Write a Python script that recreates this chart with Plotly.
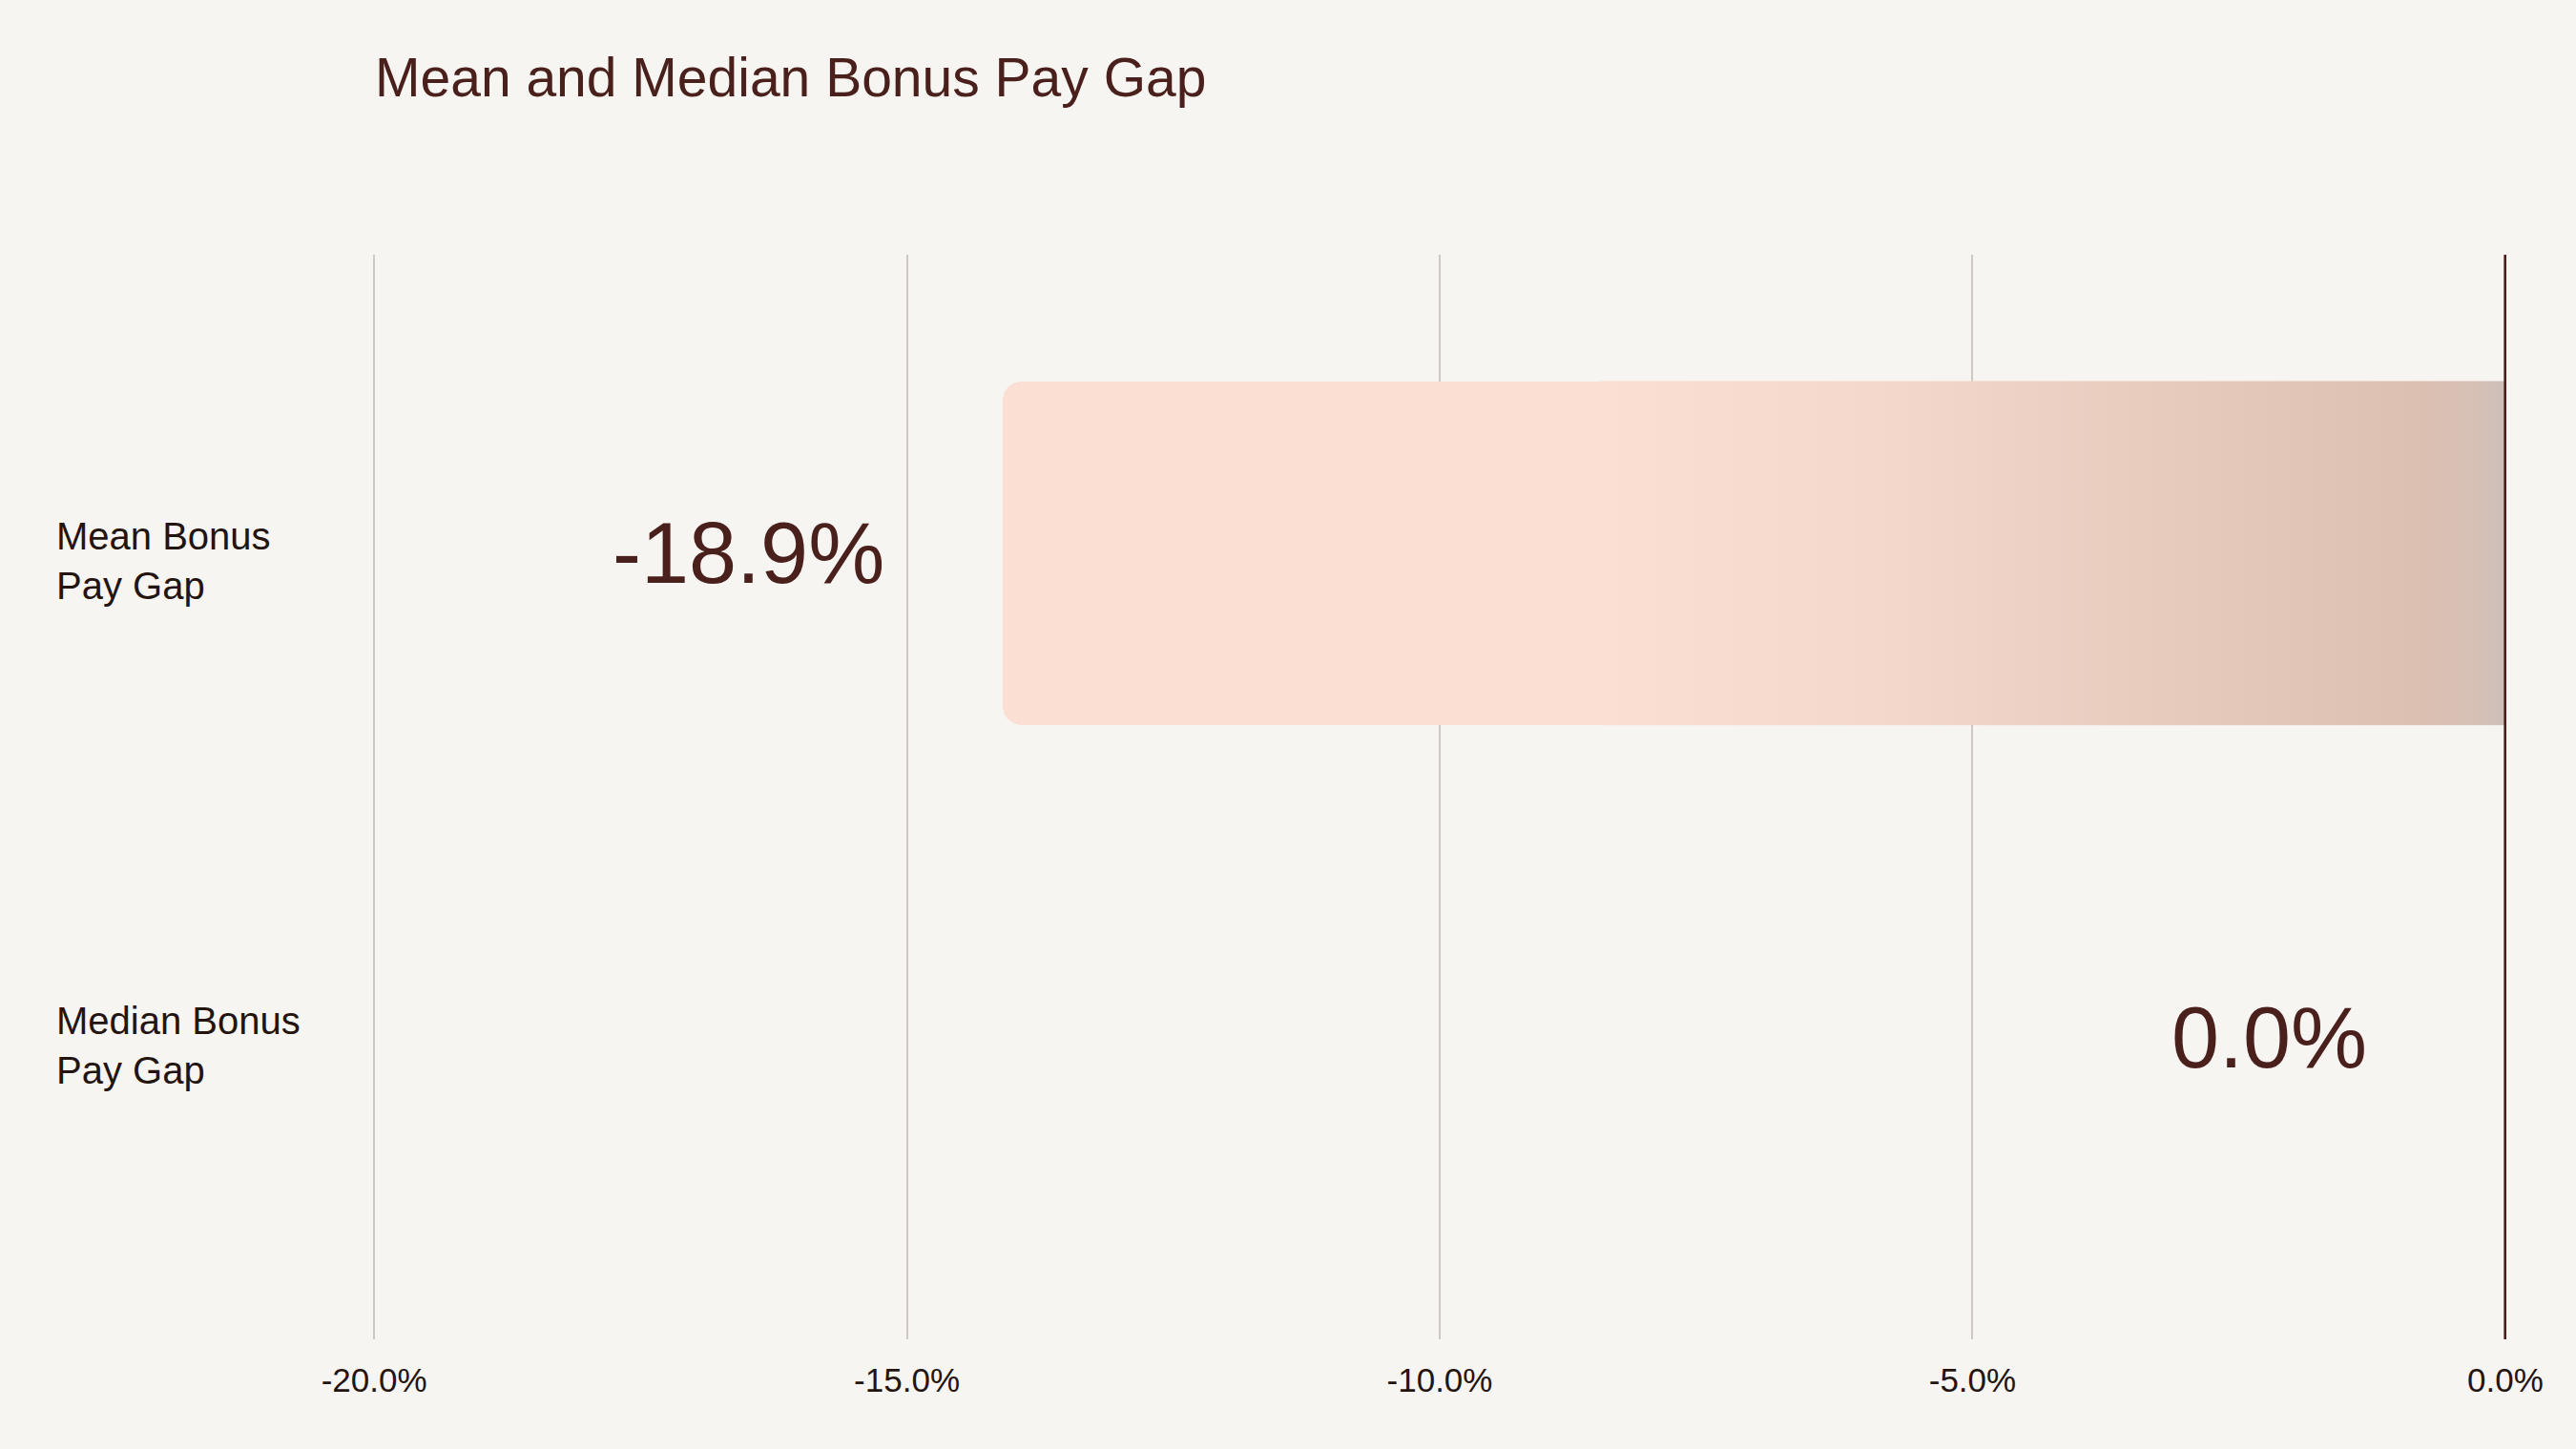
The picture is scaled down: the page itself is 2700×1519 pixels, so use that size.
import plotly.graph_objects as go

# ---- data ----
categories = ["Mean Bonus<br>Pay Gap", "Median Bonus<br>Pay Gap"]
bar_values = [-14.1, 0.0]          # bar length as drawn (percent)
value_labels = ["-18.9%", "0.0%"]  # reported values
tick_values = [-20, -15, -10, -5, 0]
tick_labels = ["-20.0%", "-15.0%", "-10.0%", "-5.0%", "0.0%"]
title_text = "Mean and Median Bonus Pay Gap"

# ---- style ----
BG = "#f7f5f1"
DARK = "#4a201c"
TEXT = "#24140f"
GRID = "#cfc7c3"
FONT = "Liberation Sans, Arial, sans-serif"
BAR_W = 0.71
GRAD_START = -8.5
label_shift = [-122, -143]

W, H = 2700, 1519
L, R, T, B = 391, 73, 267, 115

positions = list(range(len(categories)))

fig = go.Figure()

fig.add_trace(go.Bar(
    x=bar_values, y=positions, orientation="h", width=BAR_W,
    marker=dict(color="#fbdfd2", line=dict(width=0), cornerradius=20),
    hoverinfo="skip", showlegend=False,
))

# gradient overlay on the right part of each non-zero bar
for pos, val in zip(positions, bar_values):
    if val < GRAD_START:
        x0 = GRAD_START
        fig.add_trace(go.Scatter(
            x=[x0, 0, 0, x0, x0],
            y=[pos - BAR_W / 2, pos - BAR_W / 2, pos + BAR_W / 2, pos + BAR_W / 2, pos - BAR_W / 2],
            mode="lines", line=dict(width=0), fill="toself",
            fillgradient=dict(type="horizontal", colorscale=[
                [0.0, "#fbdfd2"], [0.3, "#f3d8cb"], [0.6, "#e8cdbf"],
                [0.9, "#dcc0b1"], [0.97, "#d6c0b6"], [1.0, "#cdbfba"]]),
            hoverinfo="skip", showlegend=False,
        ))

plot_w = W - L - R
for pos, val, lab, sh in zip(positions, bar_values, value_labels, label_shift):
    fig.add_annotation(
        x=val, y=pos, xref="x", yref="y", text=lab, showarrow=False,
        xanchor="right", yanchor="middle", xshift=sh,
        font=dict(family=FONT, size=90, color=DARK),
    )
    fig.add_annotation(
        x=(57 - L) / plot_w, y=pos, xref="paper", yref="y", text=categories[pos],
        showarrow=False, xanchor="left", yanchor="middle", align="left", yshift=-8,
        font=dict(family=FONT, size=40, color=TEXT),
    )

# zero line above bars
fig.add_shape(type="line", xref="x", yref="paper", x0=0, x1=0, y0=0, y1=1,
              line=dict(color=DARK, width=3), layer="above")

fig.update_layout(
    width=W, height=H,
    margin=dict(l=L, r=R, t=T, b=B),
    paper_bgcolor=BG, plot_bgcolor=BG,
    title=dict(text=title_text, x=393 / W, xanchor="left", xref="container",
               y=1 - 81 / H, yanchor="middle", yref="container",
               font=dict(family=FONT, size=57, color=DARK)),
    xaxis=dict(range=[-20.01, 0.01], tickvals=tick_values, ticktext=tick_labels,
               showgrid=True, gridcolor=GRID, gridwidth=2, zeroline=False,
               showline=False, ticks="", ticklabelstandoff=19,
               tickfont=dict(family=FONT, size=35, color=TEXT), fixedrange=True),
    yaxis=dict(range=[1.622, -0.616], showticklabels=False, showgrid=False,
               zeroline=False, showline=False, fixedrange=True),
    bargap=0,
)

fig.write_html(
    "out.html",
    config={"displayModeBar": False},
    post_script="document.body.style.margin='0';document.body.style.background='" + BG + "';",
)
